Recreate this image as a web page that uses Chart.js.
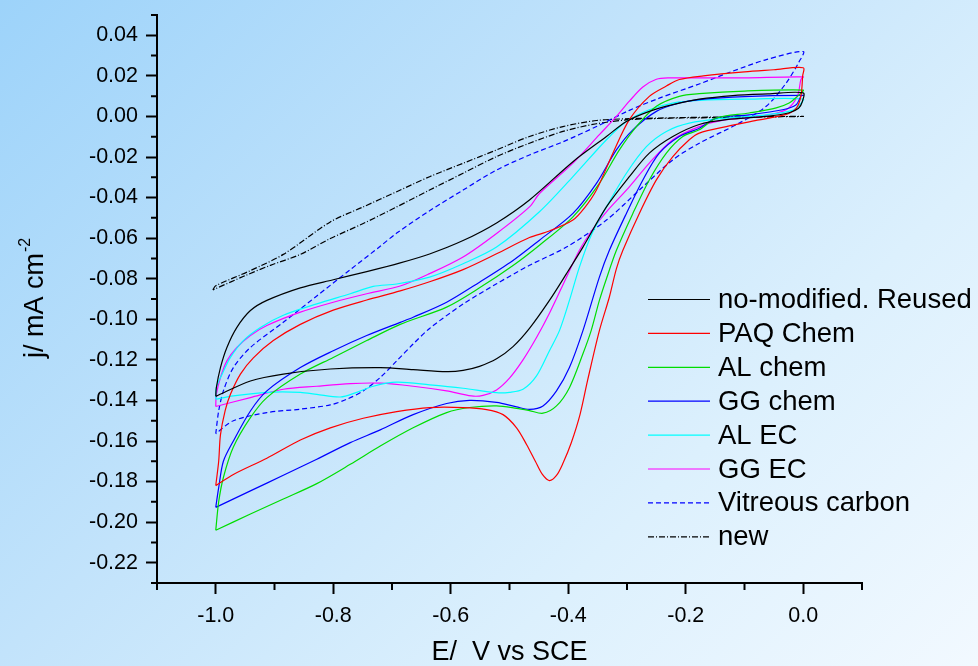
<!DOCTYPE html>
<html>
<head>
<meta charset="utf-8">
<script src="https://cdn.jsdelivr.net/npm/chart.js@4.4.1/dist/chart.umd.min.js"></script>
<style>
  html, body { margin: 0; padding: 0; }
  body {
    width: 978px; height: 666px; overflow: hidden;
    background: linear-gradient(135deg, #9dd3fa 0%, #c2e3fb 40%, #dcf0fd 70%, #f2f9ff 100%);
  }
  canvas { display: block; }
</style>
</head>
<body>
<canvas id="cv" width="978" height="666"></canvas>
<script>
// E (V vs SCE), j (mA cm-2) pairs, each loop
const noModReused = [
  [-1.0,-0.138],[-0.999,-0.1337],[-0.992,-0.1238],[-0.981,-0.1139],[-0.964,-0.104],[-0.941,-0.0957],
  [-0.913,-0.0907],[-0.856,-0.0845],[-0.8,-0.0805],[-0.743,-0.0765],[-0.686,-0.0722],[-0.636,-0.0678],
  [-0.579,-0.0612],[-0.522,-0.0525],[-0.466,-0.0412],[-0.392,-0.0223],[-0.335,-0.0099],[-0.301,-0.0025],
  [-0.262,0.0025],[-0.222,0.0058],[-0.177,0.0085],[-0.12,0.0103],[-0.06,0.0111],[0.0,0.0116],
  [-0.002,0.007],[-0.008,0.004],[-0.024,0.0018],[-0.063,0.0],[-0.131,-0.0016],[-0.177,-0.004],
  [-0.222,-0.0099],[-0.262,-0.0181],[-0.296,-0.0297],[-0.335,-0.0446],[-0.375,-0.0644],[-0.403,-0.0775],
  [-0.432,-0.0907],[-0.466,-0.1045],[-0.494,-0.1135],[-0.522,-0.1195],[-0.551,-0.1232],[-0.579,-0.1252],
  [-0.607,-0.1258],[-0.664,-0.1248],[-0.72,-0.1238],[-0.805,-0.1245],[-0.885,-0.127],[-0.941,-0.1304],
  [-1.0,-0.138]
];
const paqChem = [
  [-1.0,-0.182],[-0.995,-0.17],[-0.992,-0.157],[-0.984,-0.145],[-0.975,-0.137],[-0.958,-0.127],
  [-0.936,-0.119],[-0.902,-0.1105],[-0.856,-0.1025],[-0.8,-0.0955],[-0.743,-0.0905],[-0.686,-0.086],
  [-0.636,-0.0815],[-0.579,-0.0755],[-0.522,-0.0677],[-0.466,-0.0597],[-0.432,-0.0565],[-0.392,-0.0511],
  [-0.372,-0.045],[-0.352,-0.0363],[-0.324,-0.0181],[-0.296,-0.0016],[-0.262,0.0099],[-0.233,0.015],
  [-0.211,0.0182],[-0.17,0.02],[-0.1,0.022],[-0.05,0.023],[0.0,0.024],
  [-0.001,0.02],[-0.004,0.01],[-0.012,0.004],[-0.029,0.001],[-0.075,-0.0017],[-0.131,-0.005],
  [-0.177,-0.0082],[-0.194,-0.0115],[-0.222,-0.0198],[-0.25,-0.0313],[-0.279,-0.0478],[-0.307,-0.066],
  [-0.318,-0.075],[-0.33,-0.089],[-0.347,-0.1056],[-0.367,-0.13],[-0.38,-0.147],[-0.395,-0.161],
  [-0.409,-0.171],[-0.42,-0.177],[-0.432,-0.1795],[-0.444,-0.1765],[-0.456,-0.17],[-0.471,-0.1617],
  [-0.488,-0.1535],[-0.511,-0.147],[-0.539,-0.1445],[-0.579,-0.1435],[-0.636,-0.1435],[-0.692,-0.1455],
  [-0.749,-0.1488],[-0.805,-0.1535],[-0.856,-0.1595],[-0.913,-0.1685],[-0.97,-0.1765],[-1.0,-0.182]
];
const alChem = [
  [-1.0,-0.204],[-0.995,-0.19],[-0.987,-0.178],[-0.97,-0.163],[-0.941,-0.1485],[-0.913,-0.1386],
  [-0.856,-0.127],[-0.8,-0.1188],[-0.743,-0.1105],[-0.686,-0.1025],[-0.607,-0.094],[-0.551,-0.0845],
  [-0.494,-0.0735],[-0.449,-0.0635],[-0.392,-0.0495],[-0.347,-0.033],[-0.313,-0.0165],[-0.284,-0.005],
  [-0.25,0.005],[-0.211,0.0099],[-0.177,0.0112],[-0.1,0.0125],[0.0,0.013],
  [-0.004,0.0115],[-0.01,0.0099],[-0.024,0.0066],[-0.046,0.0042],[-0.092,0.0017],[-0.148,-0.0008],
  [-0.177,-0.0066],[-0.205,-0.0099],[-0.233,-0.0181],[-0.262,-0.0313],[-0.29,-0.0478],[-0.318,-0.066],
  [-0.335,-0.08],[-0.347,-0.0907],[-0.361,-0.1056],[-0.375,-0.117],[-0.398,-0.1337],[-0.42,-0.1427],
  [-0.443,-0.1463],[-0.466,-0.145],[-0.488,-0.1439],[-0.522,-0.1427],[-0.568,-0.1435],[-0.607,-0.146],
  [-0.664,-0.1535],[-0.72,-0.1625],[-0.771,-0.1715],[-0.828,-0.181],[-0.885,-0.1886],[-0.941,-0.196],
  [-1.0,-0.204]
];
const ggChem = [
  [-1.0,-0.1927],[-0.995,-0.183],[-0.987,-0.17],[-0.97,-0.16],[-0.941,-0.1452],[-0.913,-0.1353],
  [-0.856,-0.1238],[-0.8,-0.1155],[-0.743,-0.108],[-0.686,-0.1015],[-0.664,-0.099],[-0.607,-0.0916],
  [-0.551,-0.0817],[-0.494,-0.071],[-0.449,-0.061],[-0.392,-0.0478],[-0.352,-0.033],[-0.318,-0.0165],
  [-0.29,-0.0066],[-0.25,0.0025],[-0.211,0.0066],[-0.177,0.0083],[-0.1,0.0098],[0.0,0.0104],
  [-0.004,0.0099],[-0.012,0.0058],[-0.035,0.0033],[-0.092,0.0008],[-0.148,-0.0008],[-0.177,-0.0058],
  [-0.211,-0.0099],[-0.245,-0.0181],[-0.273,-0.0313],[-0.301,-0.0478],[-0.33,-0.066],[-0.347,-0.0792],
  [-0.375,-0.1056],[-0.398,-0.1238],[-0.42,-0.1353],[-0.443,-0.1427],[-0.466,-0.1444],[-0.488,-0.1432],
  [-0.522,-0.141],[-0.568,-0.14],[-0.607,-0.1415],[-0.664,-0.147],[-0.72,-0.1545],[-0.771,-0.1608],
  [-0.828,-0.169],[-0.885,-0.1769],[-0.941,-0.1846],[-1.0,-0.1927]
];
const alEC = [
  [-1.0,-0.1394],[-0.999,-0.1337],[-0.989,-0.127],[-0.975,-0.1188],[-0.953,-0.1105],[-0.924,-0.104],
  [-0.885,-0.098],[-0.828,-0.0924],[-0.771,-0.0874],[-0.732,-0.0838],[-0.692,-0.0826],[-0.636,-0.0792],
  [-0.579,-0.0726],[-0.522,-0.0644],[-0.449,-0.047],[-0.392,-0.0297],[-0.335,-0.0115],[-0.301,-0.0025],
  [-0.262,0.0033],[-0.222,0.0066],[-0.177,0.0079],[-0.1,0.0085],[0.0,0.0086],
  [-0.005,0.006],[-0.018,0.003],[-0.063,0.0008],[-0.131,-0.0008],[-0.194,-0.0033],[-0.233,-0.0074],
  [-0.267,-0.0149],[-0.301,-0.028],[-0.335,-0.0446],[-0.36,-0.058],[-0.381,-0.0743],[-0.398,-0.0907],
  [-0.415,-0.1056],[-0.432,-0.1155],[-0.454,-0.1279],[-0.477,-0.1345],[-0.5,-0.136],[-0.522,-0.1362],
  [-0.579,-0.134],[-0.636,-0.1323],[-0.692,-0.131],[-0.732,-0.133],[-0.76,-0.136],[-0.788,-0.1383],
  [-0.828,-0.137],[-0.856,-0.136],[-0.913,-0.136],[-0.97,-0.1378],[-1.0,-0.1394]
];
const ggEC = [
  [-1.0,-0.143],[-0.999,-0.137],[-0.992,-0.1287],[-0.981,-0.1205],[-0.964,-0.1139],[-0.941,-0.108],
  [-0.913,-0.1031],[-0.856,-0.0965],[-0.8,-0.0916],[-0.743,-0.0874],[-0.686,-0.0836],[-0.636,-0.0775],
  [-0.579,-0.0693],[-0.522,-0.0577],[-0.466,-0.0446],[-0.449,-0.038],[-0.392,-0.023],[-0.347,-0.009],
  [-0.318,0.0],[-0.296,0.0075],[-0.273,0.0145],[-0.25,0.0183],[-0.228,0.019],[-0.188,0.019],
  [-0.1,0.019],[0.0,0.0195],
  [-0.004,0.0182],[-0.01,0.0099],[-0.029,0.0033],[-0.075,0.0],[-0.131,-0.0016],[-0.177,-0.005],
  [-0.222,-0.0115],[-0.262,-0.023],[-0.296,-0.0347],[-0.335,-0.047],[-0.358,-0.0555],[-0.381,-0.066],
  [-0.409,-0.083],[-0.432,-0.097],[-0.454,-0.109],[-0.477,-0.12],[-0.5,-0.129],[-0.522,-0.1348],
  [-0.545,-0.1375],[-0.565,-0.1378],[-0.607,-0.1353],[-0.664,-0.133],[-0.72,-0.1315],[-0.771,-0.1317],
  [-0.828,-0.133],[-0.885,-0.1345],[-0.941,-0.1386],[-1.0,-0.143]
];
const vitreousCarbon = [
  [-1.0,-0.1564],[-0.995,-0.1452],[-0.987,-0.1353],[-0.97,-0.1238],[-0.941,-0.1139],[-0.885,-0.1015],
  [-0.828,-0.0885],[-0.771,-0.0755],[-0.72,-0.064],[-0.692,-0.0575],[-0.636,-0.0465],[-0.579,-0.0363],
  [-0.522,-0.0264],[-0.466,-0.019],[-0.409,-0.0125],[-0.352,-0.005],[-0.296,0.003],[-0.245,0.009],
  [-0.177,0.016],[-0.12,0.0223],[-0.063,0.028],[0.0,0.032],
  [-0.007,0.027],[-0.029,0.0165],[-0.063,0.005],[-0.109,-0.0033],[-0.177,-0.0132],[-0.222,-0.0214],
  [-0.279,-0.0363],[-0.335,-0.0511],[-0.403,-0.0644],[-0.466,-0.0734],[-0.522,-0.0825],[-0.579,-0.0925],
  [-0.636,-0.1045],[-0.664,-0.1122],[-0.692,-0.1205],[-0.72,-0.1287],[-0.749,-0.1353],[-0.777,-0.1394],
  [-0.805,-0.1422],[-0.856,-0.1443],[-0.913,-0.146],[-0.97,-0.15],[-1.0,-0.1564]
];
const newElectrode = [
  [-1.005,-0.0855],[-1.0,-0.0835],[-0.941,-0.076],[-0.885,-0.068],[-0.805,-0.052],[-0.749,-0.0446],
  [-0.692,-0.0371],[-0.636,-0.0297],[-0.579,-0.0231],[-0.522,-0.0165],[-0.466,-0.0099],[-0.409,-0.005],
  [-0.352,-0.002],[-0.296,-0.0011],[-0.245,-0.0008],[-0.15,-0.0003],[0.0,0.0],
  [-0.1,-0.0004],[-0.245,-0.001],[-0.296,-0.0016],[-0.352,-0.0036],[-0.409,-0.0074],[-0.466,-0.0132],
  [-0.522,-0.0198],[-0.579,-0.028],[-0.636,-0.0363],[-0.692,-0.0446],[-0.749,-0.0528],[-0.805,-0.0602],
  [-0.856,-0.068],[-0.907,-0.0734],[-0.95,-0.0785],[-1.005,-0.0855]
];

const seriesLabels = ['no-modified. Reused', 'PAQ Chem', 'AL chem', 'GG chem', 'AL EC', 'GG EC', 'Vitreous carbon', 'new'];
const seriesData = [noModReused, paqChem, alChem, ggChem, alEC, ggEC, vitreousCarbon, newElectrode];
const seriesColors = ['#000000', '#ff0000', '#00dd00', '#0000ff', '#00ffff', '#ff00ff', '#0000ff', '#000000'];
const seriesDash = [[], [], [], [], [], [], [5, 3], [6, 2, 1, 2]];

const xTicks = [-1.0, -0.8, -0.6, -0.4, -0.2, 0.0];
const xMinor = [-1.1, -0.9, -0.7, -0.5, -0.3, -0.1, 0.1];
const yTicks = [-0.22, -0.20, -0.18, -0.16, -0.14, -0.12, -0.10, -0.08, -0.06, -0.04, -0.02, 0.00, 0.02, 0.04];
const yMinor = [-0.23, -0.21, -0.19, -0.17, -0.15, -0.13, -0.11, -0.09, -0.07, -0.05, -0.03, -0.01, 0.01, 0.03, 0.05];

const FONT = "'Liberation Sans', Arial, sans-serif";

const extras = {
  id: 'extras',
  afterDraw(chart) {
    const ctx = chart.ctx;
    const xs = chart.scales.x, ys = chart.scales.y;
    const area = chart.chartArea;
    ctx.save();
    // minor ticks
    ctx.strokeStyle = '#000';
    ctx.lineWidth = 2;
    ctx.beginPath();
    yMinor.forEach(v => {
      const py = ys.getPixelForValue(v);
      ctx.moveTo(area.left - 6, py);
      ctx.lineTo(area.left, py);
    });
    xMinor.forEach(v => {
      const px = xs.getPixelForValue(v);
      ctx.moveTo(px, area.bottom);
      ctx.lineTo(px, area.bottom + 7);
    });
    ctx.stroke();

    // y title with superscript
    ctx.fillStyle = '#000';
    ctx.translate(43, 358);
    ctx.rotate(-Math.PI / 2);
    ctx.font = '27px ' + FONT;
    ctx.textBaseline = 'alphabetic';
    ctx.textAlign = 'left';
    const main = 'j/ mA cm';
    ctx.fillText(main, 0, 0);
    const w = ctx.measureText(main).width;
    ctx.font = '16px ' + FONT;
    ctx.fillText('-2', w + 1, -13);
    ctx.restore();

    // legend
    ctx.save();
    ctx.font = '27.5px ' + FONT;
    ctx.textBaseline = 'middle';
    ctx.textAlign = 'left';
    chart.data.datasets.forEach((ds, i) => {
      const ry = 299.5 + i * 33.9;
      ctx.strokeStyle = ds.borderColor;
      ctx.lineWidth = 1.2;
      ctx.setLineDash(ds.borderDash || []);
      ctx.beginPath();
      ctx.moveTo(648, ry);
      ctx.lineTo(710, ry);
      ctx.stroke();
      ctx.setLineDash([]);
      ctx.fillStyle = '#000';
      ctx.fillText(ds.label, 718, ry + 1);
    });
    ctx.restore();
  }
};

new Chart(document.getElementById('cv'), {
  type: 'scatter',
  data: {
    datasets: seriesData.map((arr, i) => ({
      label: seriesLabels[i],
      data: arr.map(p => ({ x: p[0], y: p[1] })),
      showLine: true,
      borderColor: seriesColors[i],
      borderDash: seriesDash[i],
      borderWidth: 1.2,
      pointRadius: 0,
      fill: false,
      tension: 0.3
    }))
  },
  options: {
    responsive: false,
    animation: false,
    layout: { padding: { left: 0, top: 15, right: 116, bottom: 0 } },
    plugins: { legend: { display: false }, tooltip: { enabled: false } },
    scales: {
      x: {
        type: 'linear', min: -1.1, max: 0.1,
        afterBuildTicks: s => { s.ticks = xTicks.map(v => ({ value: v })); },
        afterFit: s => { s.height = 83; s.paddingLeft = 0; s.paddingRight = 0; },
        border: { display: true, color: '#000', width: 2 },
        grid: { drawOnChartArea: false, drawTicks: true, tickLength: 11, tickColor: '#000', tickWidth: 2 },
        ticks: { color: '#000', font: { family: FONT, size: 21.5 }, padding: 9, maxRotation: 0, autoSkip: false,
                 callback: v => Number(v).toFixed(1) },
        title: { display: true, text: 'E/  V vs SCE', color: '#000', font: { family: FONT, size: 27, lineHeight: 1 }, padding: 0 }
      },
      y: {
        type: 'linear', min: -0.23, max: 0.05,
        afterBuildTicks: s => { s.ticks = yTicks.map(v => ({ value: v })); },
        afterFit: s => { s.width = 157; s.paddingTop = 0; s.paddingBottom = 0; },
        border: { display: true, color: '#000', width: 2 },
        grid: { drawOnChartArea: false, drawTicks: true, tickLength: 11, tickColor: '#000', tickWidth: 2 },
        ticks: { color: '#000', font: { family: FONT, size: 21.5 }, padding: 8, autoSkip: false,
                 callback: v => Number(v).toFixed(2) }
      }
    }
  },
  plugins: [extras]
});
</script>
</body>
</html>
